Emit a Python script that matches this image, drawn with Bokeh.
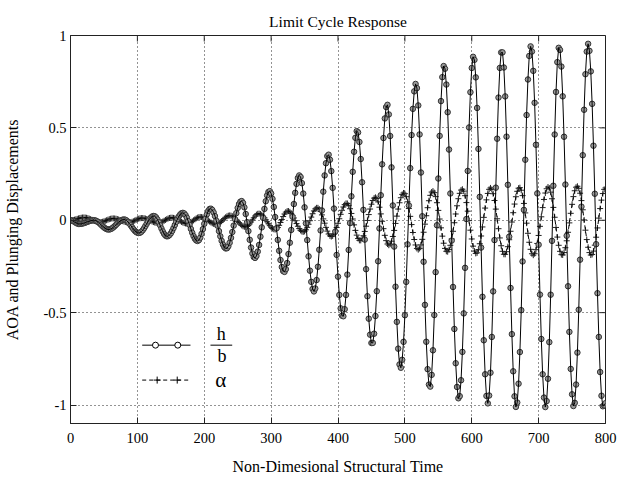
import numpy as np
from bokeh.plotting import figure
from bokeh.models import FixedTicker, Label, Range1d
from bokeh.embed import file_html
from bokeh.resources import INLINE

# ---- data (times and values of the successive extrema) ----
h_ext_t = [0, 13, 35, 57, 80, 102, 124.6, 144.5, 168, 190, 209.3, 232.8, 255.7, 275.6,
           297.6, 319.5, 342.4, 364, 385.5, 407.2, 428.7, 451, 473.5, 493.5, 516.4, 537.3,
           558.6, 580.7, 602.6, 624, 645, 666.4, 688.3, 710.3, 730.7, 752.6, 774, 796.5, 800]
h_ext_v = [0, -0.02, 0.0, -0.05, 0.004, -0.069, 0.023, -0.087, 0.04, -0.112, 0.063, -0.153,
           0.104, -0.204, 0.158, -0.28, 0.243, -0.385, 0.356, -0.523, 0.485, -0.67, 0.627,
           -0.80, 0.739, -0.905, 0.838, -0.968, 0.888, -0.991, 0.919, -1.012, 0.942, -1.012,
           0.939, -1.009, 0.955, -1.009, -0.99]

alpha_ext_t = [0, 20, 44, 64, 87, 107, 131, 151, 174.5, 194, 218, 238, 261.7, 281.6, 306,
               325, 348, 369, 390, 413, 433, 456, 476, 498.4, 520, 541.8, 563.3, 585.7,
               606.6, 628, 649, 671.4, 691.9, 714.3, 735.2, 757.7, 778.6, 800]
alpha_ext_v = [0, 0.015, -0.01, 0.01, -0.012, 0.012, -0.015, 0.014, -0.018, 0.018, -0.022,
               0.026, -0.036, 0.036, -0.05, 0.05, -0.063, 0.068, -0.088, 0.092, -0.11, 0.124,
               -0.135, 0.148, -0.159, 0.158, -0.171, 0.168, -0.18, 0.175, -0.186, 0.177,
               -0.189, 0.18, -0.189, 0.184, -0.189, 0.175]

sample_step = 2.0  # structural time between plotted samples

x_ticks = [0, 100, 200, 300, 400, 500, 600, 700, 800]
x_tick_labels = ["0", "100", "200", "300", "400", "500", "600", "700", "800"]
y_ticks = [-1, -0.5, 0, 0.5, 1]
y_tick_labels = ["-1", "-0.5", "0", "0.5", "1"]

title_text = "Limit Cycle Response"
x_label = "Non-Dimesional Structural Time"
y_label = "AOA and Plunging Displacements"
legend_h_top, legend_h_bottom, legend_alpha = "h", "b", "α"


def through_extrema(tk, vk, t):
    tk = np.asarray(tk, float)
    vk = np.asarray(vk, float)
    i = np.clip(np.searchsorted(tk, t, side="right") - 1, 0, len(tk) - 2)
    t0, t1 = tk[i], tk[i + 1]
    v0, v1 = vk[i], vk[i + 1]
    s = (t - t0) / (t1 - t0)
    return v0 + (v1 - v0) * (1 - np.cos(np.pi * s)) / 2


t = np.arange(0, 800 + 1e-9, sample_step)
h = through_extrema(h_ext_t, h_ext_v, t)
alpha = through_extrema(alpha_ext_t, alpha_ext_v, t)

FONT = "Liberation Serif"
X0, X1, Y0, Y1 = 0, 800, -1.1, 1.0
FRAME_W, FRAME_H = 535, 388
BL, BR, BT, BB = 70, 12, 35, 58
PX_Y = (Y1 - Y0) / FRAME_H  # data units per pixel, vertical

p = figure(width=BL + FRAME_W + BR, height=BT + FRAME_H + BB, output_backend="svg",
           toolbar_location=None, x_range=Range1d(X0, X1), y_range=Range1d(Y0, Y1),
           min_border_left=BL, min_border_right=BR, min_border_top=BT, min_border_bottom=BB,
           title=title_text)
p.title.align = "center"
p.title.vertical_align = "middle"
p.title.text_font = FONT
p.title.text_font_size = "15.5px"
p.title.text_font_style = "normal"
p.title.text_color = "black"
p.background_fill_color = "white"
p.border_fill_color = "white"
p.outline_line_color = "#222222"

for ax, ticks, labels in ((p.xaxis[0], x_ticks, dict(zip(x_ticks, x_tick_labels))),
                          (p.yaxis[0], y_ticks, dict(zip(y_ticks, y_tick_labels)))):
    ax.ticker = FixedTicker(ticks=ticks)
    ax.major_label_overrides = labels
    ax.major_tick_in = 6
    ax.major_tick_out = 0
    ax.minor_tick_in = 0
    ax.minor_tick_out = 0
    ax.axis_line_color = "#222222"
    ax.major_tick_line_color = "#222222"
    ax.major_label_text_font = FONT
    ax.major_label_text_font_size = "14.5px"
    ax.major_label_text_color = "black"
    ax.axis_label_text_font = FONT
    ax.axis_label_text_font_size = "16px"
    ax.axis_label_text_font_style = "normal"
    ax.axis_label_text_color = "black"

p.xaxis.axis_label = x_label
p.yaxis.axis_label = y_label
p.xaxis.major_label_standoff = 9
p.xaxis.axis_label_standoff = 12
p.yaxis.major_label_standoff = 4
p.yaxis.axis_label_standoff = 20

# inward ticks on the top and right edges of the box
tick_dx = 6 * (X1 - X0) / FRAME_W
tick_dy = 6 * PX_Y
p.segment(x0=x_ticks, y0=[Y1] * len(x_ticks), x1=x_ticks, y1=[Y1 - tick_dy] * len(x_ticks),
          line_color="#222222", line_width=1)
p.segment(x0=[X1] * len(y_ticks), y0=y_ticks, x1=[X1 - tick_dx] * len(y_ticks), y1=y_ticks,
          line_color="#222222", line_width=1)

p.xgrid.ticker = FixedTicker(ticks=x_ticks)
p.ygrid.ticker = FixedTicker(ticks=y_ticks)
for g in (p.xgrid[0], p.ygrid[0]):
    g.grid_line_color = "black"
    g.grid_line_dash = "1 3"
    g.grid_line_alpha = 0.85
    g.grid_line_width = 1

# alpha series: dashed line with plus markers
p.scatter(t, alpha, marker="cross", size=6, line_color="#222222", line_width=1)
p.line(t, alpha, line_color="black", line_width=1, line_dash="4 3")

# h/b series: solid line with circle markers
p.scatter(t, h, marker="circle", size=5.5, fill_color="#999999", line_color="#333333", line_width=1)
p.line(t, h, line_color="black", line_width=1)

# legend, drawn as in the reference
leg_x = [107.2, 179.4]
p.line(leg_x, [-0.676, -0.676], line_color="black", line_width=1)
p.scatter([127.1, 160.4], [-0.676, -0.676], marker="circle", size=6, fill_color="white",
          line_color="black", line_width=1)
p.line(leg_x, [-0.865, -0.865], line_color="black", line_width=1, line_dash="4 3")
p.scatter([129.6, 159.6], [-0.865, -0.865], marker="cross", size=7, line_color="black",
          line_width=1)
p.line([209.3, 241.8], [-0.676, -0.676], line_color="black", line_width=1)
for lx, ly, txt, fs in ((225.5, -0.615, legend_h_top, "18px"),
                        (226.5, -0.737, legend_h_bottom, "18px"),
                        (224.8, -0.865, legend_alpha, "21px")):
    p.add_layout(Label(x=lx, y=ly, text=txt, text_align="center", text_baseline="middle",
                       text_font=FONT, text_font_size=fs, text_color="black"))

open("out.html", "w").write(file_html(p, INLINE))
